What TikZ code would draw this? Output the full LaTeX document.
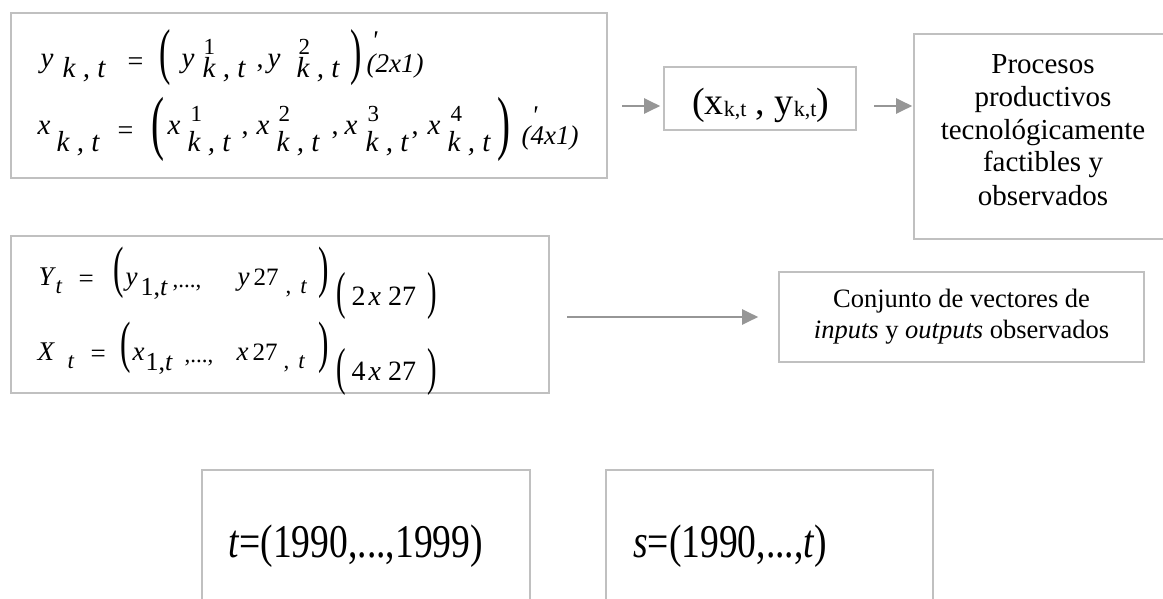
\documentclass[tikz,border=0pt]{standalone}
\usepackage{fontspec}
\setmainfont{Liberation Serif}
\usepackage{graphicx}
\usetikzlibrary{arrows.meta}
\definecolor{boxc}{RGB}{192,192,192}
\definecolor{arrc}{RGB}{150,150,150}
\newcommand\pc[3]{\rlap{\hspace*{#1pt}\raisebox{#2pt}{#3}}}
\newcommand\fmi{\fontsize{29}{31}\selectfont\itshape}
\newcommand\fmr{\fontsize{28}{30}\selectfont\upshape}
\newcommand\fsup{\fontsize{23}{25}\selectfont\upshape}
\newcommand\bigp[2]{{\fontsize{#1}{#1}\selectfont\upshape\scalebox{0.55}[1]{#2}}}
\newcommand\prm{{\fontsize{27}{30}\selectfont\itshape\textquotesingle}}
\newcommand\fbi{\fontsize{27}{29}\selectfont\itshape}
\newcommand\fbr{\fontsize{27}{29}\selectfont\upshape}
\newcommand\fbs{\fontsize{23}{25}\selectfont\upshape}
\tikzset{
  boxshape/.style={draw=boxc, line width=1.6pt, inner sep=0pt, rectangle},
  arr/.style={draw=arrc, line width=2pt, -{Triangle[length=16pt,width=15pt]}},
  txt/.style={inner sep=0pt, text=black}
}
\begin{document}
\begin{tikzpicture}[x=1pt,y=-1pt]
\clip (0,0) rectangle (1163,599);
\fill[white] (0,0) rectangle (1163,599);

% boxes
\node[boxshape, minimum width=596pt, minimum height=165pt] (b1) at (309,95.5) {};
\node[boxshape, minimum width=192pt, minimum height=63pt] (xy) at (760,98.5) {};
\node[boxshape, minimum width=258pt, minimum height=205pt] (proc) at (1043,136.5) {};
\node[boxshape, minimum width=538pt, minimum height=157pt] (b2) at (280,314.5) {};
\node[boxshape, minimum width=365pt, minimum height=90pt] (conj) at (961.5,317) {};
\node[boxshape, minimum width=328pt, minimum height=190pt] (tb) at (366,565) {};
\node[boxshape, minimum width=327pt, minimum height=190pt] (sb) at (769.5,565) {};

% box 1 content
\node[txt, anchor=base west] (l1) at (0,68) {%
\pc{40}{0}{\fmi y}%
\pc{62}{-10}{\fmi k , t}%
\pc{127}{-3}{\fmr =}%
\pc{159}{-5}{\bigp{62}{(}}%
\pc{181}{0}{\fmi y}%
\pc{203}{13}{\fsup 1}%
\pc{202}{-10}{\fmi k , t}%
\pc{256}{0}{\fmr ,}%
\pc{267}{0}{\fmi y}%
\pc{298}{13}{\fsup 2}%
\pc{296}{-10}{\fmi k , t}%
\pc{350}{-5}{\bigp{62}{)}}%
\pc{371}{18}{\prm}%
\pc{366}{-5}{\fontsize{27}{28}\selectfont\itshape (2x1)}%
};
\node[txt, anchor=base west] (l2) at (0,135) {%
\pc{37}{0}{\fmi x}%
\pc{56}{-17}{\fmi k , t}%
\pc{117}{-5}{\fmr =}%
\pc{151}{-12}{\bigp{71}{(}}%
\pc{167}{0}{\fmi x}%
\pc{190}{13}{\fsup 1}%
\pc{187}{-17}{\fmi k , t}%
\pc{241}{0}{\fmr ,}%
\pc{256}{0}{\fmi x}%
\pc{278}{13}{\fsup 2}%
\pc{276}{-17}{\fmi k , t}%
\pc{331}{0}{\fmr ,}%
\pc{344}{0}{\fmi x}%
\pc{367}{13}{\fsup 3}%
\pc{365}{-17}{\fmi k , t}%
\pc{411}{0}{\fmr ,}%
\pc{427}{0}{\fmi x}%
\pc{450}{13}{\fsup 4}%
\pc{447}{-17}{\fmi k , t}%
\pc{497}{-12}{\bigp{71}{)}}%
\pc{531}{10}{\prm}%
\pc{521}{-10}{\fontsize{27}{28}\selectfont\itshape (4x1)}%
};

% box 2 content
\node[txt, anchor=base west] (l3) at (0,285) {%
\pc{38}{0}{\fbi Y}%
\pc{55}{-8}{\fbs\itshape t}%
\pc{78}{-2}{\fbr =}%
\pc{113}{-1}{\bigp{57}{(}}%
\pc{125}{0}{\fbi y}%
\pc{140}{-10}{\fontsize{26}{28}\selectfont 1,\textit{t}}%
\pc{172}{-2}{\fbs ,...,}%
\pc{237}{0}{\fbi y}%
\pc{253}{0}{\fontsize{25}{27}\selectfont 27}%
\pc{285}{-8}{\fbs ,\hspace{9pt}\textit{t}}%
\pc{318}{-1}{\bigp{57}{)}}%
\pc{336}{-23}{\bigp{52}{(}}%
\pc{351}{-20}{\fontsize{28}{30}\selectfont 2\hspace{3pt}\textit{x}\hspace{7pt}27}%
\pc{427}{-23}{\bigp{52}{)}}%
};
\node[txt, anchor=base west] (l4) at (0,360) {%
\pc{37}{0}{\fbi X}%
\pc{67}{-8}{\fbs\itshape t}%
\pc{90}{-2}{\fbr =}%
\pc{120}{-1}{\bigp{57}{(}}%
\pc{132}{0}{\fbi x}%
\pc{145}{-10}{\fontsize{26}{28}\selectfont 1,\textit{t}}%
\pc{184}{-2}{\fbs ,...,}%
\pc{236}{0}{\fbi x}%
\pc{252}{0}{\fontsize{25}{27}\selectfont 27}%
\pc{283}{-8}{\fbs ,\hspace{9pt}\textit{t}}%
\pc{318}{-1}{\bigp{57}{)}}%
\pc{336}{-24}{\bigp{52}{(}}%
\pc{351}{-20}{\fontsize{28}{30}\selectfont 4\hspace{3pt}\textit{x}\hspace{7pt}27}%
\pc{427}{-24}{\bigp{52}{)}}%
};

% other texts
\node[txt, anchor=base west] (xyt) at (692,115) {\fontsize{38}{40}\selectfont (x\raisebox{-2pt}{\fontsize{22}{24}\selectfont k,t} , y\raisebox{-2pt}{\fontsize{22}{24}\selectfont k,t})};
\node[txt, anchor=base, align=center, font=\fontsize{29}{33}\selectfont] (proct) at (1043,205) {Procesos\\productivos\\tecnológicamente\\factibles y\\observados};
\node[txt, anchor=base, align=center, font=\fontsize{26.5}{31}\selectfont] (conjt) at (961.5,338) {Conjunto de vectores de\\\textit{inputs} y \textit{outputs} observados};
\node[txt, anchor=base west] (tt) at (228,557) {\scalebox{0.8}[1]{\fontsize{47}{50}\selectfont\textit{t}=(1990,...,1999)}};
\node[txt, anchor=base west] (st) at (633,557) {\scalebox{0.8}[1]{\fontsize{47}{50}\selectfont\textit{s}=(1990,...,\textit{t})}};

% arrows
\coordinate (a1) at (622,106);
\coordinate (a2) at (874,106);
\coordinate (a3) at (567,317);
\draw[arr, shorten >=3pt] (a1) -- (a1 -| xy.west);
\draw[arr, shorten >=1pt] (a2) -- (a2 -| proc.west);
\draw[arr, shorten >=20pt] (a3) -- (a3 -| conj.west);
\end{tikzpicture}
\end{document}
